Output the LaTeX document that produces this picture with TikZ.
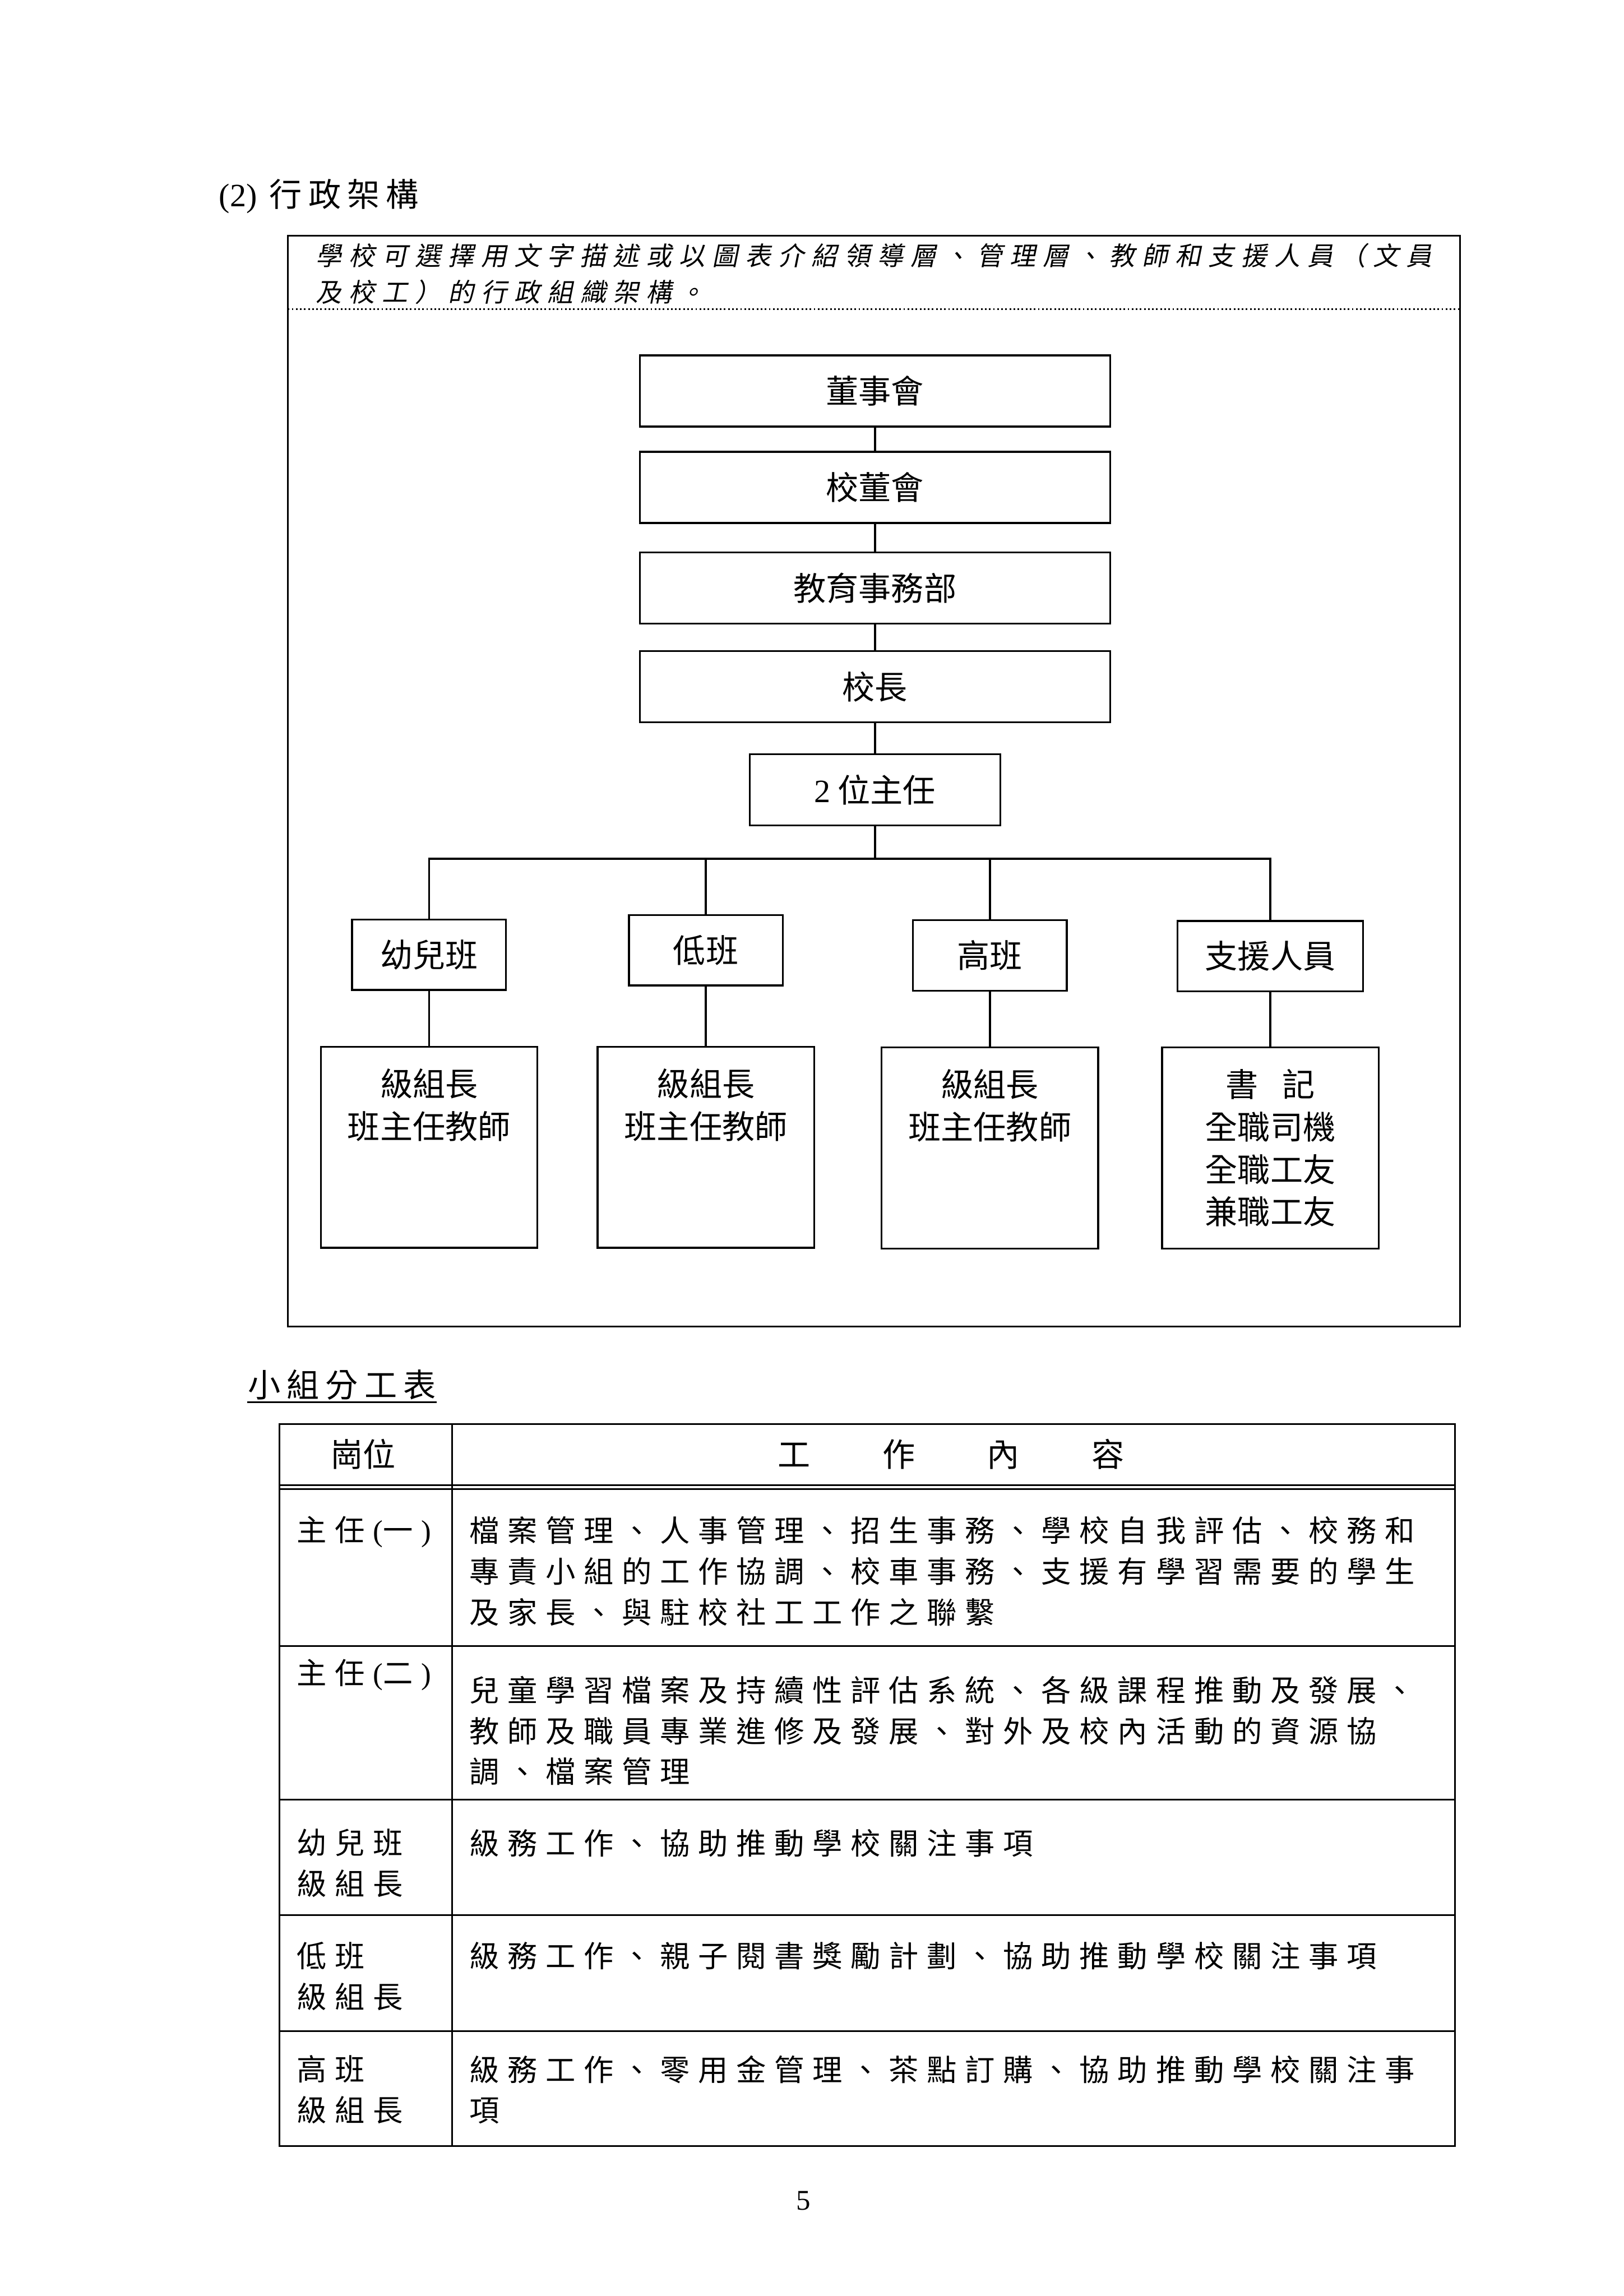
\documentclass[tikz,border=0pt]{standalone}
\usepackage{fontspec}
\setmainfont{Liberation Serif}
\newfontfamily\cjk{Noto Sans CJK TC}
\newfontfamily\cjkwide[LetterSpace=27.6]{Noto Sans CJK TC}
\newfontfamily\cjkhead[LetterSpace=19]{Noto Sans CJK TC}
\newfontfamily\cjkslant[FakeSlant=0.2,LetterSpace=28]{Noto Sans CJK TC}

\begin{document}
\begin{tikzpicture}[
  x=0.018936cm,
  y=-0.018936cm,
  line width=0.7pt,
  chartfont/.style={font=\cjk\fontsize{12}{15.6}\selectfont},
  topbox/.style={draw, chartfont, minimum width=6.08cm, minimum height=0.92cm, inner sep=0pt},
  classbox/.style={draw, chartfont, minimum width=1.99cm, minimum height=0.91cm, inner sep=0pt},
  staffbox/.style={draw, chartfont, align=center, minimum width=2.8cm, minimum height=2.6cm, inner sep=0pt},
  celltext/.style={font=\cjkwide\fontsize{11}{15}\selectfont, align=left, anchor=north west, inner sep=0pt},
  rule/.style={line width=0.6pt}
]

% Page
\fill[white] (0,0) rectangle (1109,1568);
\useasboundingbox (0,0) rectangle (1109,1568);

% Heading
\node[anchor=base west, inner sep=0pt, font=\fontsize{12}{14}\selectfont] (heading) at (149,141) {(2)\hspace{1.6mm}{\cjkhead 行政架構}};

% Frame with the note on top
\draw[rule] (196.5,161) rectangle (997,906);
\draw[rule, dash pattern=on 0.6pt off 0.9pt] (196.5,211) -- (997,211);
\node[anchor=north west, inner sep=0pt, align=left, font=\cjkslant\fontsize{9.5}{13.3}\selectfont] (note) at (215,165.6) {學校可選擇用文字描述或以圖表介紹領導層、管理層、教師和支援人員（文員\\及校工）的行政組織架構。};

% Chart: top chain
\node[topbox] (board) at (597.5,267) {董事會};
\node[topbox] (schoolboard) at (597.5,332.8) {校董會};
\node[topbox] (eduaffairs) at (597.5,401.5) {教育事務部};
\node[topbox] (principal) at (597.5,469) {校長};
\node[topbox, minimum width=3.24cm] (heads) at (597.5,539.3) {{\rmfamily 2} 位主任};

\foreach \a/\b in {board/schoolboard, schoolboard/eduaffairs, eduaffairs/principal, principal/heads}
  \draw (\a) -- (\b);

% Chart: classes and support
\node[classbox] (kinder) at (293,652) {幼兒班};
\node[classbox] (lower) at (482,649) {低班};
\node[classbox] (upper) at (676,652.5) {高班};
\node[classbox, minimum width=2.4cm] (support) at (867.5,653) {支援人員};

\coordinate (bus) at (597.5,586.5);
\draw (heads) -- (bus);
\draw (kinder.north) -- (kinder.north |- bus) -- (support.north |- bus) -- (support.north);
\draw (lower.north) -- (lower.north |- bus);
\draw (upper.north) -- (upper.north |- bus);

% Chart: staff boxes
\node[staffbox] (kinderstaff) at (293,783.5) {級組長\\班主任教師\\\phantom{級}\\\phantom{級}};
\node[staffbox] (lowerstaff) at (482,783.5) {級組長\\班主任教師\\\phantom{級}\\\phantom{級}};
\node[staffbox] (upperstaff) at (676,784) {級組長\\班主任教師\\\phantom{級}\\\phantom{級}};
\node[staffbox] (supportstaff) at (867.5,784) {書\hspace{0.75em}記\\全職司機\\全職工友\\兼職工友};

\foreach \a/\b in {kinder/kinderstaff, lower/lowerstaff, upper/upperstaff, support/supportstaff}
  \draw (\a) -- (\b);

% Duty table
\node[anchor=base west, inner sep=0pt, font=\cjkhead\fontsize{12}{14}\selectfont] (dutytitle) at (168.7,954) {小組分工表};
\draw[rule] ([yshift=-0.7mm]dutytitle.base west) -- ([yshift=-0.7mm]dutytitle.base east);

\draw[rule] (191,972.5) rectangle (993.6,1465.5);
\draw[rule] (308.7,972.5) -- (308.7,1465.5);
\foreach \y in {1014.3,1016.9,1124,1229,1308,1387}
  \draw[rule] (191,\y) -- (993.6,\y);

\node[font=\cjk\fontsize{12}{14}\selectfont] (posthead) at (248,993) {崗位};
\node[font=\cjk\fontsize{12}{14}\selectfont] (dutyhead) at (649.5,993) {工\hspace{9.3mm}作\hspace{9.3mm}內\hspace{9.3mm}容};

\node[celltext] (post1) at (202,1035) {主任\textrm{(}一\textrm{)}};
\node[celltext] (duty1) at (319.8,1035) {檔案管理、人事管理、招生事務、學校自我評估、校務和\\專責小組的工作協調、校車事務、支援有學習需要的學生\\及家長、與駐校社工工作之聯繫};
\node[celltext] (post2) at (202,1132.3) {主任\textrm{(}二\textrm{)}};
\node[celltext] (duty2) at (319.8,1144) {兒童學習檔案及持續性評估系統、各級課程推動及發展、\\教師及職員專業進修及發展、對外及校內活動的資源協\\調、檔案管理};
\node[celltext] (post3) at (202,1248.5) {幼兒班\\級組長};
\node[celltext] (duty3) at (319.8,1248.5) {級務工作、協助推動學校關注事項};
\node[celltext] (post4) at (202,1325.5) {低班\\級組長};
\node[celltext] (duty4) at (319.8,1325.5) {級務工作、親子閱書獎勵計劃、協助推動學校關注事項};
\node[celltext] (post5) at (202,1403) {高班\\級組長};
\node[celltext] (duty5) at (319.8,1403) {級務工作、零用金管理、茶點訂購、協助推動學校關注事\\項};

% Page number
\node[font=\fontsize{10.5}{12}\selectfont] (pageno) at (548.8,1503) {5};

\end{tikzpicture}
\end{document}
